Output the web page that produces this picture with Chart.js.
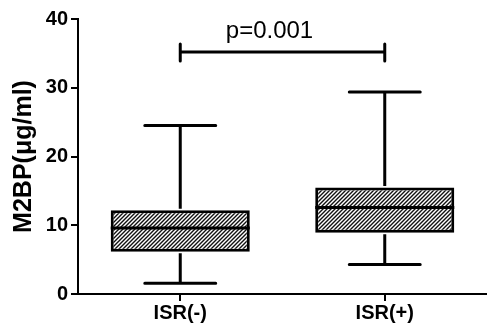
<!DOCTYPE html>
<html><head><meta charset="utf-8">
<script src="https://cdn.jsdelivr.net/npm/chart.js@4"></script>
<style>html,body{margin:0;padding:0;background:#fff}#wrap{width:487px;height:325px}</style>
</head><body><div id="wrap"><canvas id="c" width="487" height="325"></canvas></div>
<script>
const categories = ["ISR(-)", "ISR(+)"];
const whiskerMin = [1.55, 4.3];
const q1 = [6.15, 8.9];
const median = [9.6, 12.6];
const q3 = [12.2, 15.5];
const whiskerMax = [24.5, 29.4];
const yTicks = [0, 10, 20, 30, 40];
const pLabel = "p=0.001";
const bracketY = 35.2;

function hatch() {
  const s = 4;
  const c = document.createElement('canvas');
  c.width = s; c.height = s;
  const g = c.getContext('2d');
  g.fillStyle = '#fff'; g.fillRect(0,0,s,s);
  g.strokeStyle = '#111'; g.lineWidth = 1.4;
  g.beginPath();
  g.moveTo(-1, s+1); g.lineTo(s+1, -1);
  g.moveTo(-1, 1); g.lineTo(1, -1);
  g.moveTo(s-1, s+1); g.lineTo(s+1, s-1);
  g.stroke();
  return document.getElementById('c').getContext('2d').createPattern(c, 'repeat');
}

const boxPlugin = {
  id: 'boxparts',
  afterDatasetsDraw(chart) {
    const ctx = chart.ctx, x = chart.scales.x, y = chart.scales.y;
    const meta = chart.getDatasetMeta(0);
    ctx.save();
    ctx.strokeStyle = '#000'; ctx.lineWidth = 3; ctx.lineCap = 'butt';
    categories.forEach((c, i) => {
      const cx = x.getPixelForValue(i);
      const bar = meta.data[i];
      const hw = bar.width / 2;
      const capHw = hw * 0.51;
      ctx.beginPath();
      ctx.moveTo(cx - hw, y.getPixelForValue(median[i]));
      ctx.lineTo(cx + hw, y.getPixelForValue(median[i]));
      ctx.stroke();
      ctx.beginPath();
      ctx.moveTo(cx, y.getPixelForValue(q3[i]) - 1.5);
      ctx.lineTo(cx, y.getPixelForValue(whiskerMax[i]));
      ctx.moveTo(cx, y.getPixelForValue(q1[i]) + 1.5);
      ctx.lineTo(cx, y.getPixelForValue(whiskerMin[i]));
      ctx.stroke();
      ctx.lineCap = 'round';
      ctx.beginPath();
      ctx.moveTo(cx - capHw, y.getPixelForValue(whiskerMax[i]));
      ctx.lineTo(cx + capHw, y.getPixelForValue(whiskerMax[i]));
      ctx.moveTo(cx - capHw, y.getPixelForValue(whiskerMin[i]));
      ctx.lineTo(cx + capHw, y.getPixelForValue(whiskerMin[i]));
      ctx.stroke();
      ctx.lineCap = 'butt';
    });
    const x0 = x.getPixelForValue(0), x1 = x.getPixelForValue(1);
    const by = y.getPixelForValue(bracketY);
    ctx.lineCap = 'round';
    ctx.beginPath();
    ctx.moveTo(x0, by); ctx.lineTo(x1, by);
    ctx.moveTo(x0, by - 8); ctx.lineTo(x0, by + 9);
    ctx.moveTo(x1, by - 8); ctx.lineTo(x1, by + 9);
    ctx.stroke();
    ctx.fillStyle = '#000';
    ctx.font = '24px "Liberation Sans", Arial, sans-serif';
    ctx.textAlign = 'center'; ctx.textBaseline = 'alphabetic';
    ctx.fillText(pLabel, (x0 + x1) / 2 - 13, by - 14);
    ctx.restore();
  }
};

new Chart(document.getElementById('c'), {
  type: 'bar',
  data: {
    labels: categories,
    datasets: [{
      data: q1.map((v, i) => [v, q3[i]]),
      backgroundColor: hatch(),
      borderColor: '#000',
      borderWidth: 3,
      borderSkipped: false,
      barPercentage: 0.68,
      categoryPercentage: 1
    }]
  },
  options: {
    responsive: false,
    animation: false,
    layout: { padding: { top: 19, right: 0, left: 0, bottom: 0 } },
    plugins: { legend: { display: false }, tooltip: { enabled: false } },
    scales: {
      x: {
        offset: true,
        grid: { display: true, offset: false, drawOnChartArea: false, drawTicks: true, tickLength: 7, color: '#000', lineWidth: 2 },
        border: { display: true, color: '#000', width: 2 },
        ticks: { color: '#000', font: { family: '"Liberation Sans", Arial, sans-serif', size: 20, weight: 'bold' }, padding: 0 },
        afterFit(s) { s.height = 31; }
      },
      y: {
        min: 0, max: 40,
        afterBuildTicks(s) { s.ticks = yTicks.map(v => ({ value: v })); },
        grid: { display: true, drawOnChartArea: false, drawTicks: true, tickLength: 7, color: '#000', lineWidth: 2 },
        border: { display: true, color: '#000', width: 2 },
        ticks: { color: '#000', font: { family: '"Liberation Sans", Arial, sans-serif', size: 20, weight: 'bold' }, padding: 3 },
        title: { display: true, text: 'M2BP(μg/ml)', color: '#000', font: { family: '"Liberation Sans", Arial, sans-serif', size: 25, weight: 'bold' }, padding: { top: 9, bottom: 0 } },
        afterFit(s) { s.width = 78; }
      }
    }
  },
  plugins: [boxPlugin]
});
</script>
</body></html>
